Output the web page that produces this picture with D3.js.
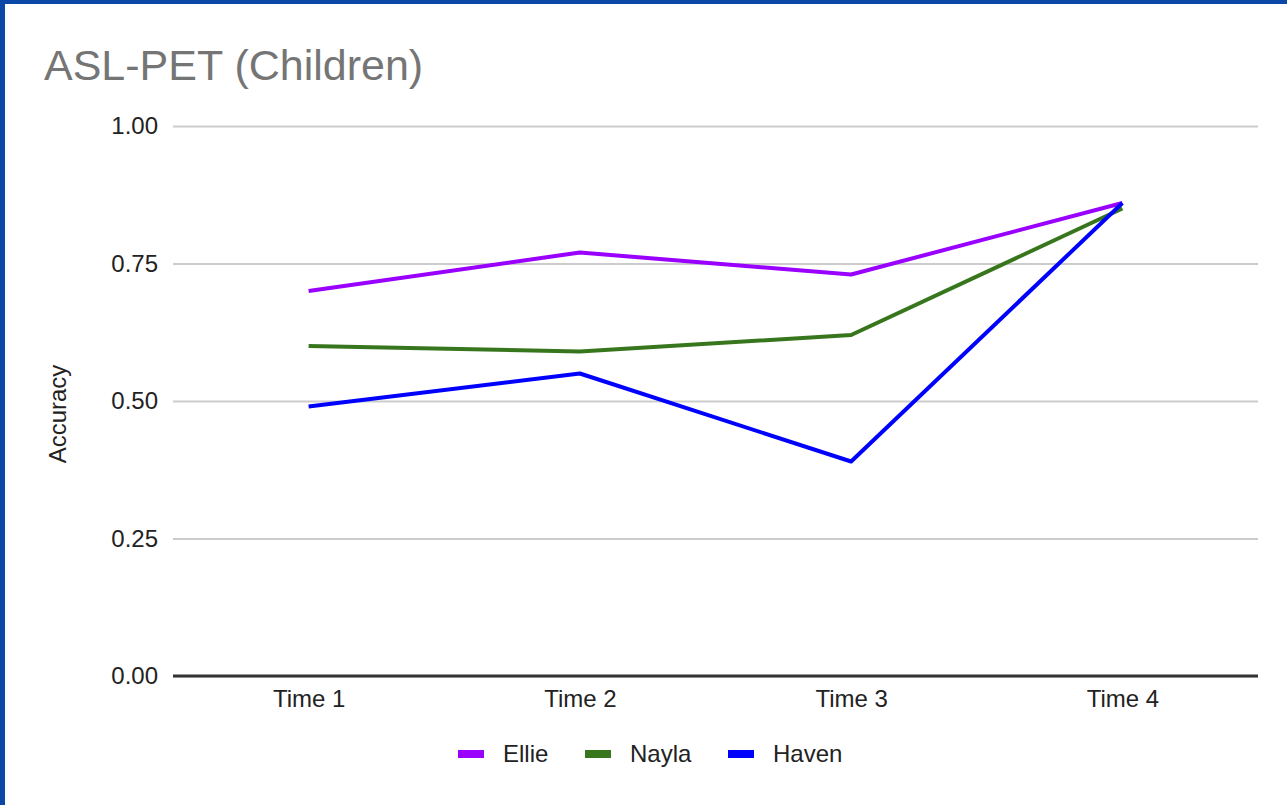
<!DOCTYPE html>
<html>
<head>
<meta charset="utf-8">
<script src="https://cdn.jsdelivr.net/npm/d3@7/dist/d3.min.js"></script>
<style>
  html, body { margin: 0; padding: 0; background: #fff; }
  svg { display: block; }
  text { font-family: "Liberation Sans", Arial, sans-serif; }
</style>
</head>
<body>
<script>
// Chart data
const categories = ["Time 1", "Time 2", "Time 3", "Time 4"];
const ellie = [0.70, 0.77, 0.73, 0.86];
const nayla = [0.60, 0.59, 0.62, 0.85];
const haven = [0.49, 0.55, 0.39, 0.86];
const seriesNames = ["Ellie", "Nayla", "Haven"];
const seriesColors = ["#9900ff", "#38761d", "#0000ff"];
const yTicks = [0, 0.25, 0.5, 0.75, 1.0];

const W = 1287, H = 805;
const margin = { left: 173, right: 29, top: 126, bottom: 129 };

const svg = d3.select("body").append("svg").attr("width", W).attr("height", H);

// frame edges
svg.append("rect").attr("x", 0).attr("y", 0).attr("width", W).attr("height", 4).attr("fill", "#0b47a7");
svg.append("rect").attr("x", 0).attr("y", 0).attr("width", 5).attr("height", H).attr("fill", "#0b47a7");

const x = d3.scalePoint().domain(categories).range([margin.left, W - margin.right]).padding(0.5);
const y = d3.scaleLinear().domain([0, 1]).range([H - margin.bottom, margin.top]);

// title
svg.append("text").attr("x", 44).attr("y", 80)
  .attr("font-size", 43).attr("fill", "#757575").text("ASL-PET (Children)");

// gridlines + y tick labels
const yAxis = d3.axisLeft(y).tickValues(yTicks).tickFormat(d3.format(".2f"))
  .tickSize(-(W - margin.left - margin.right)).tickPadding(15);
const gy = svg.append("g").attr("transform", `translate(${margin.left},0)`).call(yAxis);
gy.select(".domain").remove();
gy.selectAll(".tick line").attr("stroke", "#cccccc").attr("stroke-width", 2);
gy.selectAll(".tick text").attr("font-size", 24).attr("fill", "#222")
  .attr("font-family", "Liberation Sans, Arial, sans-serif");

// x axis baseline and labels
const xAxis = d3.axisBottom(x).tickSize(0).tickPadding(14);
const gx = svg.append("g").attr("transform", `translate(0,${y(0)})`).call(xAxis);
gx.select(".domain").attr("stroke", "#333").attr("stroke-width", 3)
  .attr("d", `M${margin.left},0H${W - margin.right}`);
gx.selectAll(".tick text").attr("font-size", 24).attr("fill", "#222")
  .attr("font-family", "Liberation Sans, Arial, sans-serif");

// y axis title
svg.append("text")
  .attr("transform", `translate(66,${y(0.5) + 13}) rotate(-90)`)
  .attr("text-anchor", "middle").attr("font-size", 24).attr("fill", "#222")
  .text("Accuracy");

// lines
const allSeries = [ellie, nayla, haven];
const line = d3.line().x((d, i) => x(categories[i])).y(d => y(d));
svg.append("g").selectAll("path").data(allSeries).join("path")
  .attr("d", line).attr("fill", "none")
  .attr("stroke", (d, i) => seriesColors[i]).attr("stroke-width", 4)
  .attr("stroke-linejoin", "round");

// legend
const legendX = [458, 585, 728];
const lg = svg.append("g");
seriesNames.forEach((name, i) => {
  lg.append("rect").attr("x", legendX[i]).attr("y", 750).attr("width", 26).attr("height", 8)
    .attr("fill", seriesColors[i]);
  lg.append("text").attr("x", legendX[i] + 45).attr("y", 762)
    .attr("font-size", 24).attr("fill", "#222").text(name);
});
</script>
</body>
</html>
